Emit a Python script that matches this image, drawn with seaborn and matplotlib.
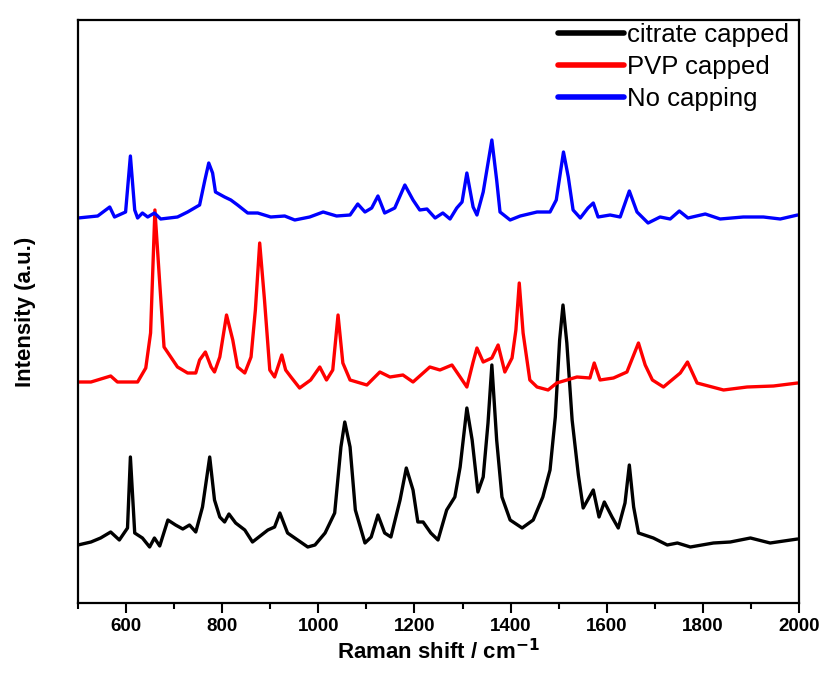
import numpy as np
import pandas as pd
import matplotlib
matplotlib.use("Agg")
import matplotlib.pyplot as plt
import seaborn as sns
from matplotlib.ticker import MultipleLocator

series_names = ["citrate capped", "PVP capped", "No capping"]
series_colors = ["#000000", "#ff0000", "#0000ff"]

citrate_x = [500, 527, 547, 568, 586, 603, 609, 618, 634, 649, 659, 670, 687, 703, 718, 732, 745, 759, 774, 784,
             795, 805, 814, 828, 847, 863, 895, 909, 920, 936, 957, 978, 993, 1014, 1034, 1047, 1055, 1066, 1077,
             1097, 1110, 1124, 1138, 1151, 1170, 1183, 1197, 1207, 1218, 1234, 1249, 1267, 1284, 1295, 1309, 1320,
             1332, 1343, 1353, 1361, 1371, 1382, 1399, 1424, 1447, 1467, 1482, 1493, 1502, 1509, 1517, 1528, 1541,
             1551, 1572, 1584, 1595, 1611, 1624, 1638, 1647, 1656, 1666, 1697, 1726, 1747, 1774, 1822, 1857, 1899,
             1940, 1997]
citrate_y = [58, 61, 65, 71, 63, 75, 146, 70, 65, 56, 65, 57, 83, 78, 74, 78, 71, 96, 146, 103,
             86, 81, 89, 80, 73, 61, 73, 76, 90, 70, 63, 56, 58, 70, 90, 156, 181, 156, 93,
             60, 66, 88, 70, 66, 103, 135, 113, 81, 81, 70, 63, 93, 106, 136, 195, 163,
             111, 126, 180, 238, 163, 106, 83, 75, 83, 106, 133, 186, 263, 298, 260, 183, 128,
             95, 113, 86, 101, 86, 75, 100, 138, 96, 70, 65, 58, 60, 56, 60, 61, 65,
             60, 64]

pvp_x = [500, 527, 568, 582, 624, 641, 651, 660, 670, 679, 693, 707, 728, 745, 753, 765, 777, 784, 795, 809,
         822, 832, 847, 860, 869, 878, 888, 899, 909, 924, 932, 943, 961, 984, 1003, 1017, 1030, 1041, 1051,
         1066, 1101, 1128, 1149, 1176, 1197, 1232, 1253, 1278, 1295, 1309, 1322, 1330, 1343, 1361, 1374, 1388,
         1403, 1411, 1418, 1426, 1440, 1455, 1478, 1496, 1538, 1565, 1574, 1586, 1614, 1642, 1666, 1680, 1695,
         1718, 1753, 1768, 1788, 1843, 1892, 1947, 1997]
pvp_y = [221, 221, 227, 221, 221, 235, 270, 393, 320, 256, 246, 236, 230, 230, 243, 251, 236, 231, 246, 288,
         263, 236, 230, 246, 293, 360, 303, 233, 226, 248, 233, 226, 215, 223, 236, 223, 233, 288, 240,
         223, 218, 231, 226, 228, 221, 236, 233, 238, 226, 216, 241, 255, 241, 245, 258, 231,
         245, 273, 320, 270, 223, 216, 213, 220, 226, 225, 240, 223, 225, 231, 260, 238, 223,
         216, 230, 241, 220, 213, 216, 217, 220]

nocap_x = [500, 541, 566, 576, 599, 609, 618, 624, 634, 645, 659, 672, 707, 728, 753, 764, 772, 780, 786, 805,
           818, 832, 853, 874, 901, 930, 951, 982, 1010, 1038, 1066, 1082, 1097, 1111, 1124, 1138, 1159, 1180,
           1197, 1211, 1226, 1243, 1259, 1274, 1288, 1299, 1309, 1322, 1330, 1343, 1361, 1371, 1378, 1399, 1420,
           1455, 1482, 1495, 1510, 1520, 1530, 1545, 1561, 1572, 1582, 1607, 1628, 1647, 1663, 1686, 1711, 1732,
           1751, 1769, 1805, 1836, 1884, 1926, 1961, 1997]
nocap_y = [385, 387, 396, 386, 391, 447, 393, 385, 390, 386, 390, 384, 386, 391, 398, 423, 440, 430, 411, 406,
           403, 398, 390, 390, 386, 387, 383, 386, 391, 387, 388, 399, 391, 395, 407, 390, 395, 418,
           403, 393, 394, 385, 390, 384, 395, 401, 430, 396, 388, 411, 463, 423, 391, 383, 387,
           391, 391, 403, 451, 426, 393, 385, 395, 400, 386, 388, 386, 412, 391, 380, 386, 384,
           392, 385, 389, 384, 386, 386, 384, 388]

xticks = [600, 800, 1000, 1200, 1400, 1600, 1800, 2000]

frames = []
for name, xs, ys in zip(series_names, [citrate_x, pvp_x, nocap_x], [citrate_y, pvp_y, nocap_y]):
    frames.append(pd.DataFrame({"shift": xs, "intensity": ys, "sample": name}))
df = pd.concat(frames, ignore_index=True)

sns.set_style("white")
plt.rcParams["font.family"] = ["Liberation Sans", "DejaVu Sans"]
plt.rcParams["text.color"] = "black"
plt.rcParams["axes.labelcolor"] = "black"
plt.rcParams["xtick.color"] = "black"

fig = plt.figure(figsize=(8.23, 6.81), dpi=100)
ax = fig.add_axes([78 / 823, 1 - 603 / 681, (799 - 78) / 823, (603 - 20) / 681])

sns.lineplot(data=df, x="shift", y="intensity", hue="sample", hue_order=series_names,
             palette=dict(zip(series_names, series_colors)), linewidth=2.4, sort=True,
             estimator=None, ax=ax)

ax.set_xlim(500, 2000)
ax.set_ylim(0, 583)
ax.set_yticks([])
ax.set_xticks(xticks)
ax.set_xticklabels([str(t) for t in xticks], fontsize=13.5, fontweight="bold")
ax.xaxis.set_minor_locator(MultipleLocator(100))
ax.tick_params(axis="x", which="major", direction="out", length=7, width=1.5, bottom=True, top=False, pad=4)
ax.tick_params(axis="x", which="minor", direction="out", length=4, width=1.5, bottom=True, top=False)
for s in ax.spines.values():
    s.set_visible(True)
    s.set_color("black")
    s.set_linewidth(1.6)

ax.set_xlabel("Raman shift / cm$^{\\mathbf{-1}}$", fontsize=16, fontweight="bold", labelpad=3)
ax.set_ylabel("Intensity (a.u.)", fontsize=16, fontweight="bold", labelpad=30)

leg = ax.legend(loc="upper right", frameon=False, fontsize=18.5, handlelength=2.55, handletextpad=0.12,
                labelspacing=0.3, borderaxespad=0.0, bbox_to_anchor=(1.0, 1.012))
for line in leg.get_lines():
    line.set_linewidth(4)

fig.savefig("out.png", dpi=100)
